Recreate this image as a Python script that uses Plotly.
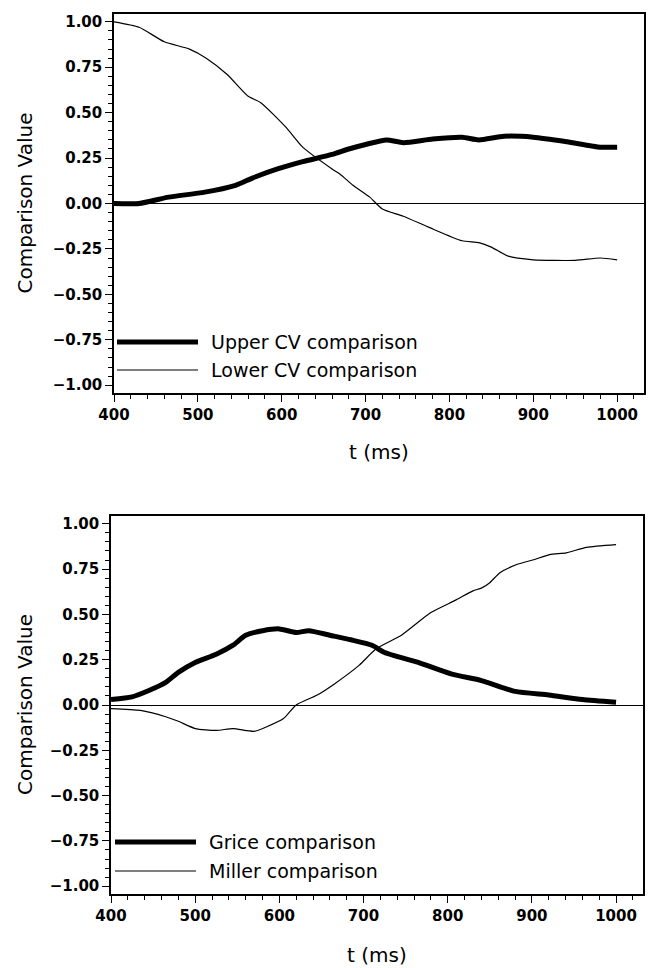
import plotly.graph_objects as go

# --- data -------------------------------------------------------------
# Top panel: CV comparisons
t_upper = [400, 430, 465, 505, 545, 565, 595, 625, 660, 680, 700, 725, 745,
           780, 815, 835, 865, 900, 940, 980, 1000]
upper_cv = [0.0, 0.0, 0.035, 0.06, 0.10, 0.14, 0.19, 0.23, 0.27, 0.30, 0.325,
            0.35, 0.335, 0.355, 0.365, 0.35, 0.37, 0.365, 0.34, 0.31, 0.31]

t_lower = [400, 430, 460, 490, 510, 535, 560, 575, 605, 625, 660, 670, 685,
           705, 720, 745, 775, 815, 835, 850, 870, 900, 950, 980, 1000]
lower_cv = [1.0, 0.97, 0.89, 0.85, 0.80, 0.71, 0.59, 0.555, 0.42, 0.31, 0.19,
            0.16, 0.10, 0.035, -0.03, -0.07, -0.13, -0.205, -0.215, -0.24,
            -0.29, -0.31, -0.313, -0.30, -0.31]

# Bottom panel: Grice / Miller comparisons
t_grice = [400, 425, 445, 465, 480, 500, 525, 545, 560, 580, 600, 620, 635,
           660, 685, 710, 725, 765, 805, 840, 880, 920, 960, 1000]
grice = [0.03, 0.045, 0.08, 0.125, 0.18, 0.235, 0.28, 0.33, 0.385, 0.41, 0.42,
         0.40, 0.41, 0.385, 0.36, 0.33, 0.29, 0.235, 0.17, 0.135, 0.075, 0.055,
         0.03, 0.015]

t_miller = [400, 435, 465, 480, 500, 525, 545, 570, 585, 605, 620, 645, 665,
            695, 715, 745, 780, 810, 830, 840, 850, 862, 882, 901, 921, 941,
            965, 1000]
miller = [-0.02, -0.03, -0.065, -0.09, -0.13, -0.14, -0.13, -0.145, -0.12,
          -0.075, 0.0, 0.055, 0.115, 0.22, 0.31, 0.385, 0.51, 0.58, 0.63, 0.645,
          0.675, 0.73, 0.775, 0.80, 0.83, 0.84, 0.87, 0.885]

y_ticks = [1.0, 0.75, 0.5, 0.25, 0.0, -0.25, -0.5, -0.75, -1.0]
y_tick_labels = ["1.00", "0.75", "0.50", "0.25", "0.00",
                 "\u22120.25", "\u22120.50", "\u22120.75", "\u22121.00"]
x_ticks = [400, 500, 600, 700, 800, 900, 1000]

legend_top = ["Upper CV comparison", "Lower CV comparison"]
legend_bottom = ["Grice comparison", "Miller comparison"]
x_title = "t (ms)"
y_title = "Comparison Value"

# --- figure -----------------------------------------------------------
W, H = 649, 968
FONT = "DejaVu Sans"
THICK, THIN = 5, 1.2


def px_x(p):
    return p / W


def px_y(p):
    return 1 - p / H


def curve(t, v, width, xa, ya):
    return go.Scatter(x=t, y=v, mode="lines",
                      line=dict(color="black", width=width,
                                shape="spline", smoothing=0.6),
                      xaxis=xa, yaxis=ya, showlegend=False)


fig = go.Figure()
fig.add_trace(curve(t_upper, upper_cv, THICK, "x", "y"))
fig.add_trace(curve(t_lower, lower_cv, THIN, "x", "y"))
fig.add_trace(curve(t_grice, grice, THICK, "x2", "y2"))
fig.add_trace(curve(t_miller, miller, THIN, "x2", "y2"))

tickfont = dict(family=FONT, size=15, color="black", weight="bold")


def xaxis_cfg(domain, anchor):
    return dict(domain=domain, anchor=anchor, range=[400, 1032],
                tickmode="array", tickvals=x_ticks,
                ticks="outside", ticklen=7, tickwidth=1.3, tickcolor="black",
                minor=dict(dtick=20, tick0=400, ticks="outside", ticklen=4,
                           tickwidth=1, tickcolor="black", showgrid=False),
                showline=True, linecolor="black", linewidth=1.5, mirror=True,
                showgrid=False, zeroline=False, tickfont=tickfont,
                automargin=False, fixedrange=True)


def yaxis_cfg(domain, anchor):
    return dict(domain=domain, anchor=anchor, range=[-1.043, 1.043],
                tickmode="array", tickvals=y_ticks, ticktext=y_tick_labels,
                ticks="outside", ticklen=7, tickwidth=1.3, tickcolor="black",
                minor=dict(dtick=0.05, tick0=0, ticks="outside", ticklen=4,
                           tickwidth=1, tickcolor="black", showgrid=False),
                showline=True, linecolor="black", linewidth=1.5, mirror=True,
                showgrid=False, zeroline=True, zerolinecolor="black",
                zerolinewidth=1.2, tickfont=tickfont,
                automargin=False, fixedrange=True)


fig.update_layout(
    width=W, height=H,
    margin=dict(l=0, r=0, t=0, b=0),
    paper_bgcolor="white", plot_bgcolor="white",
    showlegend=False,
    xaxis=xaxis_cfg([px_x(114), px_x(644)], "y"),
    yaxis=yaxis_cfg([px_y(393), px_y(14)], "x"),
    xaxis2=xaxis_cfg([px_x(111), px_x(643)], "y2"),
    yaxis2=yaxis_cfg([px_y(894), px_y(516)], "x2"),
)

title_font = dict(family=FONT, size=20, color="black", weight=500)
legend_font = dict(family=FONT, size=19, color="black")

annotations = []
shapes = []
panels = [
    # plot top/bottom px, x-title y px, legend row y px, legend x px, labels, plot left/right px
    (14, 393, 452, (342, 370), 117, legend_top, (114, 644)),
    (516, 894, 955, (842, 871), 115, legend_bottom, (111, 643)),
]
for top, bottom, xt_y, rows, lx, labels, (left, right) in panels:
    annotations.append(dict(text=y_title, x=px_x(25), y=px_y((top + bottom) / 2),
                            xref="paper", yref="paper", textangle=-90,
                            showarrow=False, font=title_font,
                            xanchor="center", yanchor="middle"))
    annotations.append(dict(text=x_title, x=px_x((left + right) / 2), y=px_y(xt_y),
                            xref="paper", yref="paper", showarrow=False,
                            font=title_font, xanchor="center", yanchor="middle"))
    for ry, label, w in zip(rows, labels, (THICK, THIN)):
        shapes.append(dict(type="line", xref="paper", yref="paper",
                           x0=px_x(lx), x1=px_x(lx + 81), y0=px_y(ry), y1=px_y(ry),
                           line=dict(color="black", width=w)))
        annotations.append(dict(text=label, x=px_x(lx + 92), y=px_y(ry),
                                xref="paper", yref="paper", showarrow=False,
                                font=legend_font, xanchor="left",
                                yanchor="middle"))

fig.update_layout(annotations=annotations, shapes=shapes)

fig.write_html("out.html")
